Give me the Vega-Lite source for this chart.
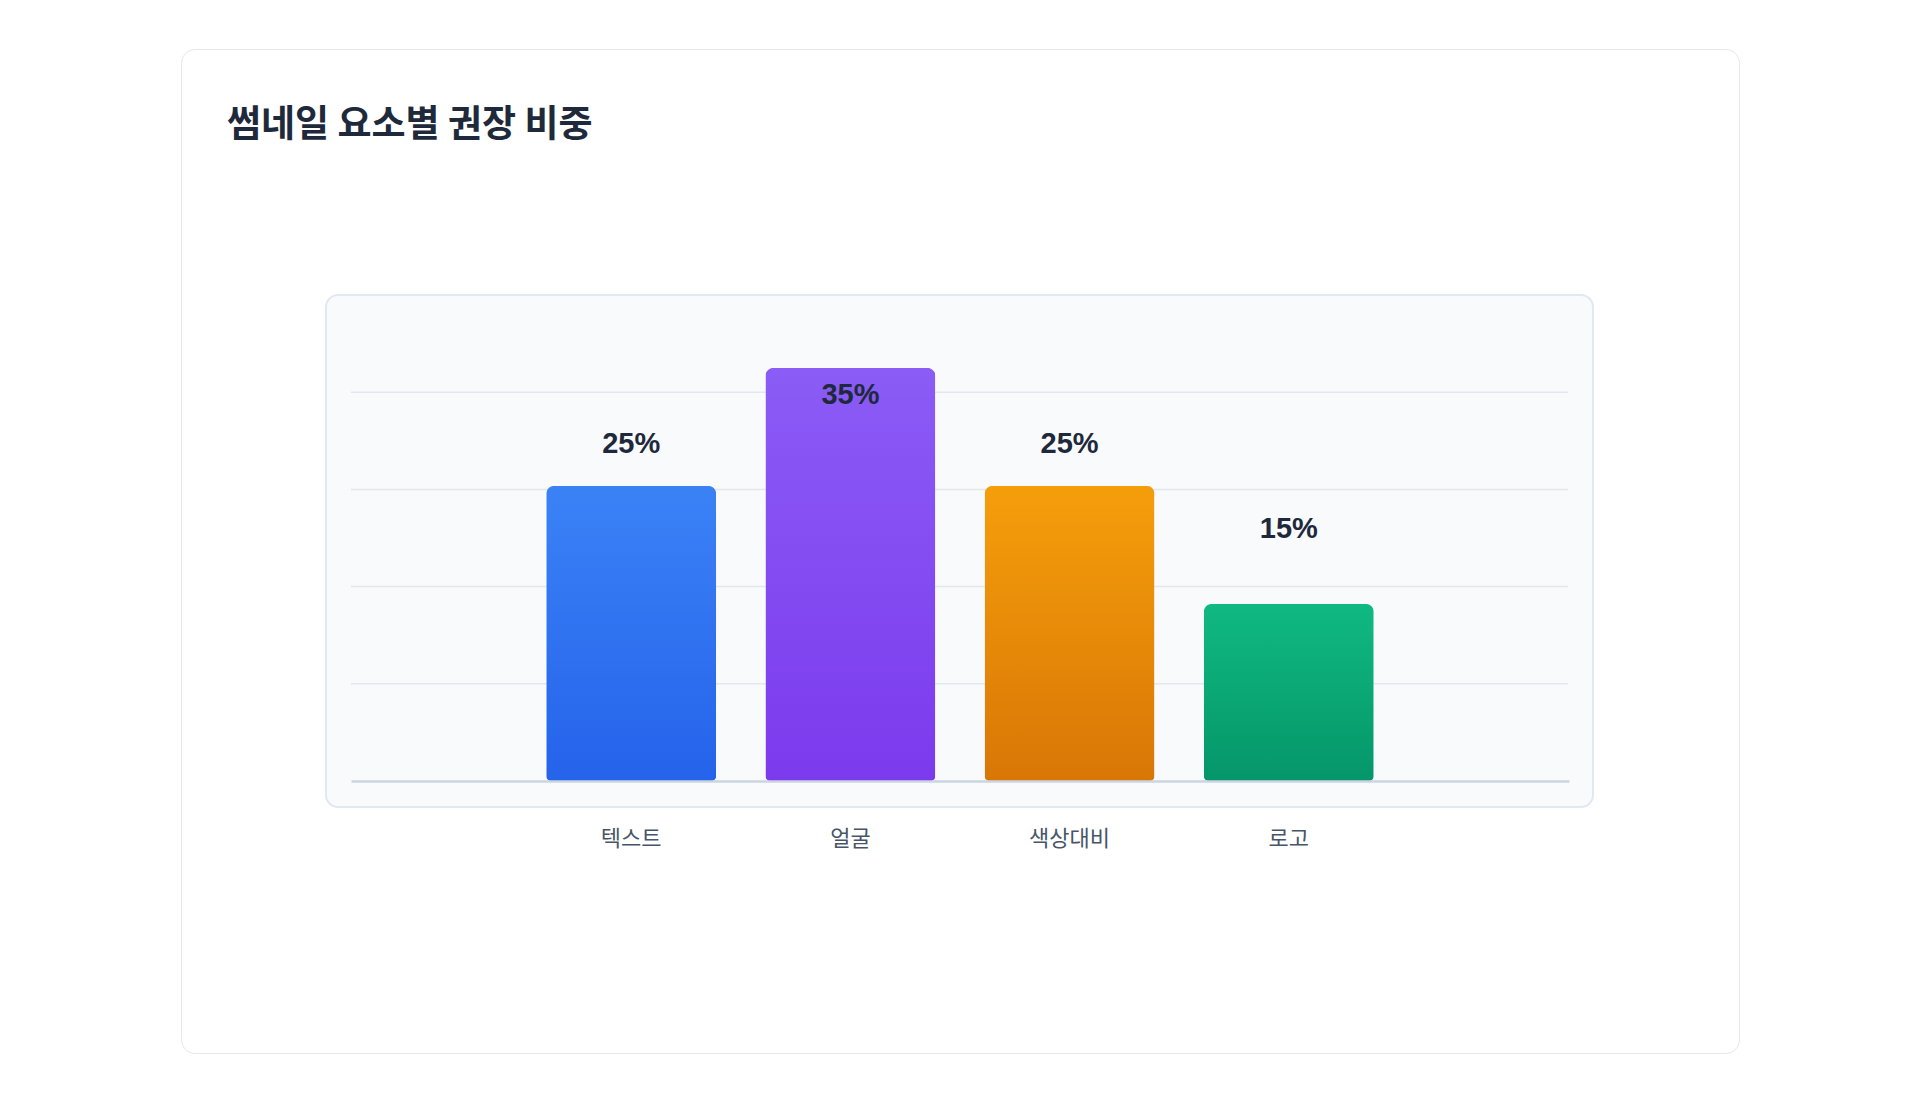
{
  "$schema": "https://vega.github.io/schema/vega-lite/v6.json",
  "width": 1558,
  "height": 1004,
  "autosize": {"type": "none"},
  "padding": {"left": 181, "top": 49, "right": 181, "bottom": 50},
  "background": "#ffffff",
  "title": {
    "text": "썸네일 요소별 권장 비중",
    "anchor": "start",
    "frame": "group",
    "font": "Noto Sans CJK KR",
    "fontSize": 37,
    "fontWeight": "bold",
    "color": "#1e293b",
    "offset": 0,
    "dx": 46,
    "dy": 96
  },
  "data": {
    "values": [
      {"element": "텍스트", "share": 0.25},
      {"element": "얼굴", "share": 0.35},
      {"element": "색상대비", "share": 0.25},
      {"element": "로고", "share": 0.15}
    ]
  },
  "layer": [
    {
      "data": {"values": [{"part": "panel"}]},
      "mark": {"type": "rect", "fill": "#f8fafc", "stroke": "#e2e8f0", "strokeWidth": 2, "cornerRadius": 12},
      "encoding": {
        "x": {"datum": 0, "type": "quantitative", "scale": {"domain": [0, 1], "range": [145, 1412]}, "axis": null},
        "x2": {"datum": 1},
        "y": {"datum": 0.4118, "type": "quantitative", "scale": {"domain": [0, 0.4118], "range": [732, 246]}, "axis": null},
        "y2": {"datum": -0.022}
      }
    },
    {
      "data": {"values": [{"tick": 0.08235}, {"tick": 0.1647}, {"tick": 0.2471}, {"tick": 0.3294}]},
      "mark": {"type": "rule", "stroke": "#e2e8f0", "strokeWidth": 1.5},
      "encoding": {
        "x": {"datum": 0.0197, "type": "quantitative", "scale": {"domain": [0, 1], "range": [145, 1412]}, "axis": null},
        "x2": {"datum": 0.9803},
        "y": {"field": "tick", "type": "quantitative", "scale": {"domain": [0, 0.4118], "range": [732, 246]}, "axis": null}
      }
    },
    {
      "mark": {
        "type": "bar",
        "cornerRadiusTopLeft": 8,
        "cornerRadiusTopRight": 8,
        "cornerRadiusBottomLeft": 5,
        "cornerRadiusBottomRight": 5
      },
      "encoding": {
        "x": {
          "field": "element",
          "type": "nominal",
          "sort": null,
          "scale": {"type": "band", "range": [170, 1388], "paddingInner": 0.2245, "paddingOuter": 0.8906},
          "axis": {
            "title": null,
            "orient": "bottom",
            "offset": -272,
            "zindex": 1,
            "domainColor": "#cbd5e1",
            "domainWidth": 2.5,
            "ticks": false,
            "tickSize": 0,
            "grid": false,
            "labelPadding": 57,
            "labelBaseline": "middle",
            "labelAngle": 0,
            "labelFont": "Noto Sans CJK KR",
            "labelFontSize": 22,
            "labelColor": "#475569"
          }
        },
        "y": {"field": "share", "type": "quantitative", "scale": {"domain": [0, 0.4118], "range": [732, 246]}, "axis": null},
        "color": {
          "condition": [
            {"test": "datum.element === '텍스트'", "value": {"gradient": "linear", "x1": 0, "y1": 0, "x2": 0, "y2": 1, "stops": [{"offset": 0, "color": "#3b82f6"}, {"offset": 1, "color": "#2563eb"}]}},
            {"test": "datum.element === '얼굴'", "value": {"gradient": "linear", "x1": 0, "y1": 0, "x2": 0, "y2": 1, "stops": [{"offset": 0, "color": "#8b5cf6"}, {"offset": 1, "color": "#7c3aed"}]}},
            {"test": "datum.element === '색상대비'", "value": {"gradient": "linear", "x1": 0, "y1": 0, "x2": 0, "y2": 1, "stops": [{"offset": 0, "color": "#f59e0b"}, {"offset": 1, "color": "#d97706"}]}}
          ],
          "value": {"gradient": "linear", "x1": 0, "y1": 0, "x2": 0, "y2": 1, "stops": [{"offset": 0, "color": "#10b981"}, {"offset": 1, "color": "#059669"}]}
        }
      }
    },
    {
      "transform": [{"filter": "datum.share === 0.25"}],
      "mark": {"type": "text", "font": "Liberation Sans", "fontWeight": "bold", "fontSize": 29, "color": "#1e293b", "baseline": "middle", "dy": -42},
      "encoding": {
        "x": {"field": "element", "type": "nominal", "scale": {"type": "band", "domain": ["텍스트", "얼굴", "색상대비", "로고"], "range": [170, 1388], "paddingInner": 0.2245, "paddingOuter": 0.8906}, "axis": null},
        "y": {"field": "share", "type": "quantitative", "scale": {"domain": [0, 0.4118], "range": [732, 246]}, "axis": null},
        "text": {"field": "share", "type": "quantitative", "format": ".0%"}
      }
    },
    {
      "transform": [{"filter": "datum.share === 0.35"}],
      "mark": {"type": "text", "font": "Liberation Sans", "fontWeight": "bold", "fontSize": 29, "color": "#1e293b", "baseline": "middle", "dy": 27},
      "encoding": {
        "x": {"field": "element", "type": "nominal", "scale": {"type": "band", "domain": ["텍스트", "얼굴", "색상대비", "로고"], "range": [170, 1388], "paddingInner": 0.2245, "paddingOuter": 0.8906}, "axis": null},
        "y": {"field": "share", "type": "quantitative", "scale": {"domain": [0, 0.4118], "range": [732, 246]}, "axis": null},
        "text": {"field": "share", "type": "quantitative", "format": ".0%"}
      }
    },
    {
      "transform": [{"filter": "datum.share === 0.15"}],
      "mark": {"type": "text", "font": "Liberation Sans", "fontWeight": "bold", "fontSize": 29, "color": "#1e293b", "baseline": "middle", "dy": -75},
      "encoding": {
        "x": {"field": "element", "type": "nominal", "scale": {"type": "band", "domain": ["텍스트", "얼굴", "색상대비", "로고"], "range": [170, 1388], "paddingInner": 0.2245, "paddingOuter": 0.8906}, "axis": null},
        "y": {"field": "share", "type": "quantitative", "scale": {"domain": [0, 0.4118], "range": [732, 246]}, "axis": null},
        "text": {"field": "share", "type": "quantitative", "format": ".0%"}
      }
    }
  ],
  "resolve": {"scale": {"x": "independent"}},
  "config": {
    "view": {"fill": "#ffffff", "stroke": "#e5e7eb", "strokeWidth": 1, "cornerRadius": 14}
  }
}
